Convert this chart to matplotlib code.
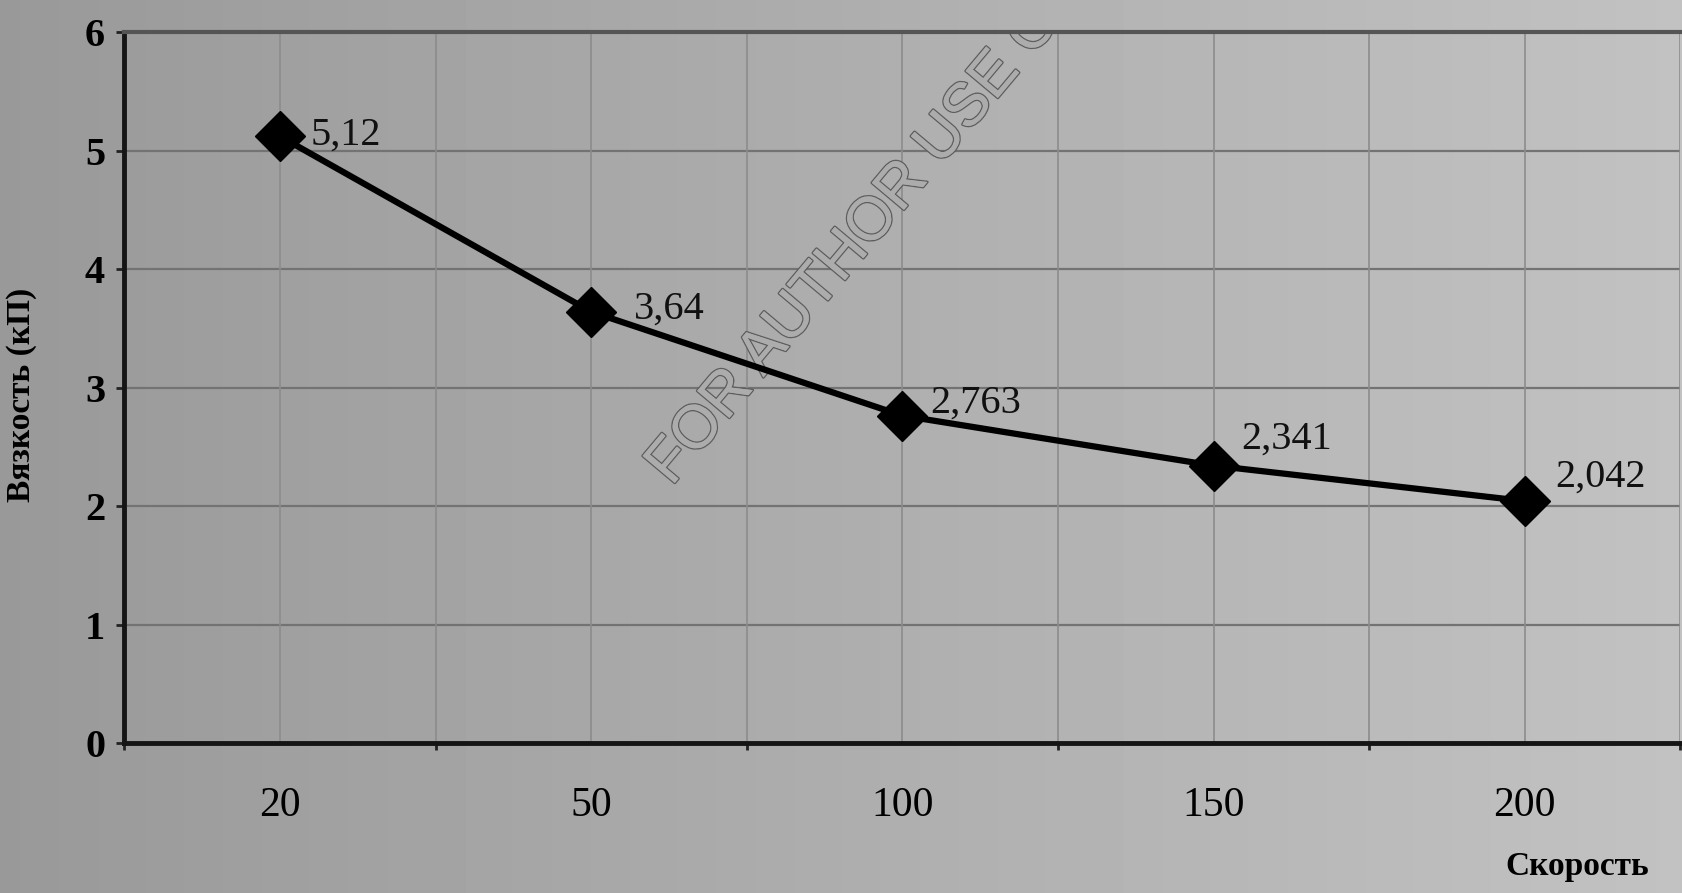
import numpy as np
import matplotlib.pyplot as plt
import matplotlib.patheffects as pe

plt.rcParams['font.family'] = ['Liberation Serif', 'DejaVu Serif']

speeds = ["20", "50", "100", "150", "200"]
viscosity = [5.12, 3.64, 2.763, 2.341, 2.042]
value_labels = ["5,12", "3,64", "2,763", "2,341", "2,042"]
label_offsets = [(22, 1), (31, 2), (20, 9), (20, 19), (22, 17)]

fig = plt.figure(figsize=(16.82, 8.93), dpi=100)

# grey photo background, darker on the left
bgax = fig.add_axes([0, 0, 1, 1], zorder=-1)
grad = np.linspace(0.60, 0.76, 256).reshape(1, -1)
bgax.imshow(grad, cmap='gray', vmin=0, vmax=1, aspect='auto', extent=[0, 1, 0, 1])
bgax.set_axis_off()

ax = fig.add_axes([0.074, 0.168, 0.925, 0.796])
ax.set_facecolor('none')

x = np.arange(len(speeds))
ax.plot(x, viscosity, color='black', lw=4.5, marker='D', markersize=25,
        markerfacecolor='black', markeredgecolor='black', zorder=3)

for xi, yi, lab, off in zip(x, viscosity, value_labels, label_offsets):
    ax.annotate(lab, (xi, yi), xytext=off, textcoords='offset points',
                ha='left', va='center', fontsize=29, color='#111111', zorder=4)

ax.set_xlim(-0.5, len(speeds) - 0.5)
ax.set_ylim(0, 6)
ax.set_yticks(range(7))
ax.set_yticklabels([str(v) for v in range(7)], fontsize=29, fontweight='bold')
ax.set_xticks(x)
ax.set_xticklabels(speeds, fontsize=30)
ax.set_xticks(np.arange(-0.5, len(speeds)), minor=True)

ax.tick_params(axis='x', which='major', length=0, pad=31)
ax.tick_params(axis='x', which='minor', length=5, width=2, color='#222222')
ax.tick_params(axis='y', length=6, width=2, pad=8, color='#222222')

# grid: category centres and boundaries vertically, integers horizontally
for gx in np.arange(-0.5, len(speeds), 0.5):
    ax.axvline(gx, color='#8c8c8c', lw=1.2, zorder=1)
ax.grid(axis='y', color='#737373', lw=1.6, zorder=1)
ax.set_axisbelow(True)

for side in ['left', 'bottom']:
    ax.spines[side].set_linewidth(3.5)
    ax.spines[side].set_color('#151515')
ax.spines['top'].set_linewidth(3)
ax.spines['top'].set_color('#555555')
ax.spines['right'].set_visible(False)

ax.set_ylabel("Вязкость (кП)", fontsize=24, fontweight='bold')
ax.yaxis.set_label_coords(-0.056, 0.49)
fig.text(0.938, 0.02, "Скорость", fontsize=24, fontweight='bold', ha='center')

# watermark from the scanned page
wm = ax.text(0.33, 0.367, "FOR AUTHOR USE ONLY", transform=ax.transAxes,
             rotation=50, fontsize=44, family='Liberation Sans', color='#acacac',
             ha='left', va='baseline', zorder=2, clip_on=True)
wm.set_path_effects([pe.withStroke(linewidth=2, foreground='#5e5e5e'), pe.Normal()])

fig.savefig("out.png", dpi=100)
